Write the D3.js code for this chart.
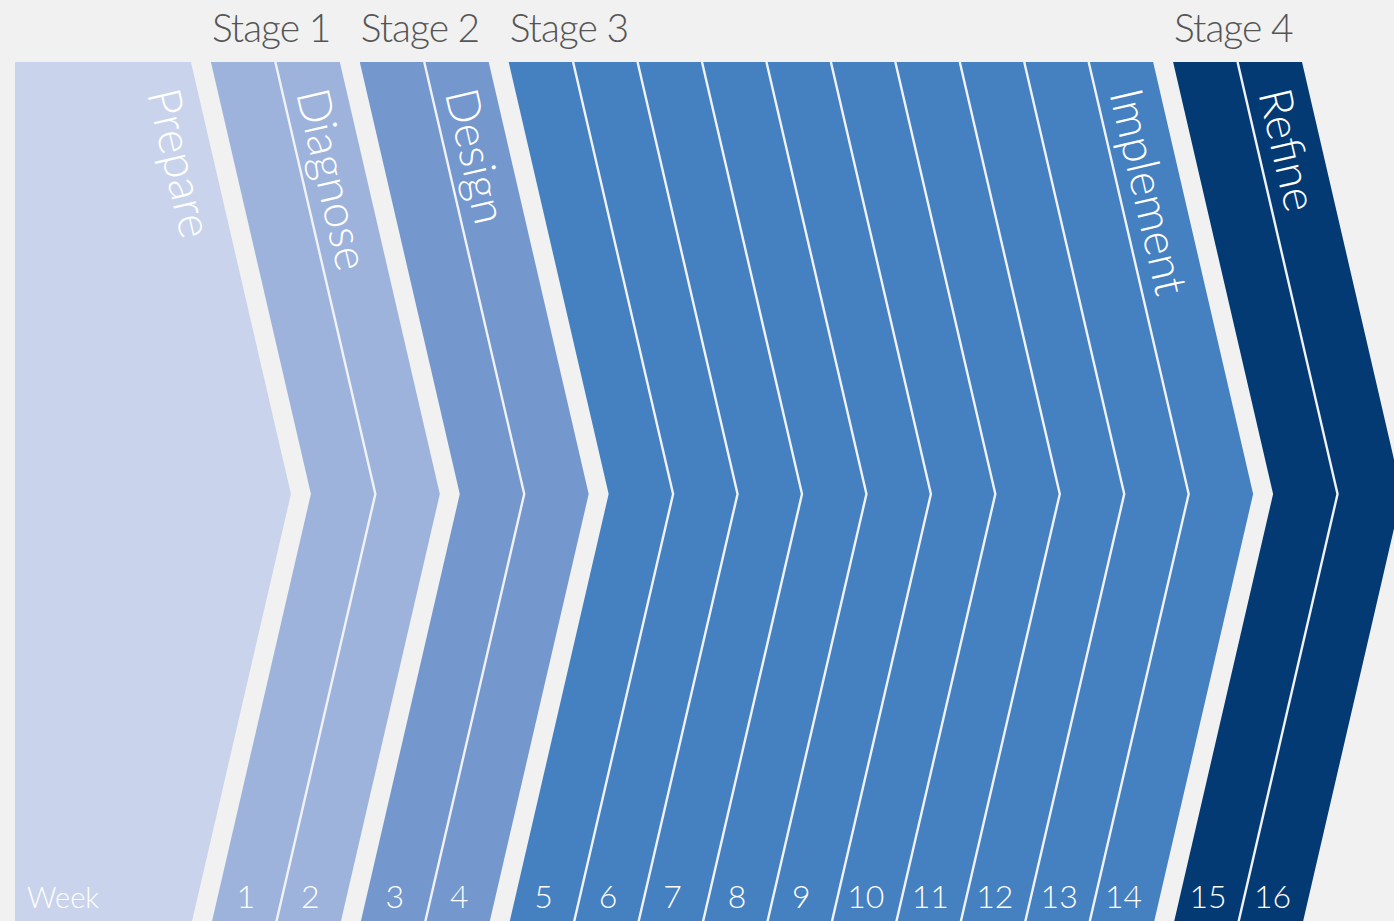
<!DOCTYPE html>
<html>
<head>
<meta charset="utf-8">
<script src="https://cdn.jsdelivr.net/npm/d3@7"></script>
<style>
  html, body { margin: 0; padding: 0; background: #f1f1f1; }
  svg { display: block; }
</style>
</head>
<body>
<svg id="chart"></svg>
<script>
// Project roadmap: a lead-in "Prepare" block followed by four stages of weekly chevrons.
const phaseNames  = ["Prepare", "Diagnose", "Design", "Implement", "Refine"];
const stageNames  = ["", "Stage 1", "Stage 2", "Stage 3", "Stage 4"];
const phaseWeeks  = [0, 2, 2, 10, 2];
const phaseColors = ["#c9d4ec", "#9db3dc", "#7497cd", "#4580c1", "#033a73"];
const weekLabels  = ["1", "2", "3", "4", "5", "6", "7", "8", "9", "10", "11", "12", "13", "14", "15", "16"];
const weekCaption = "Week";
const leadSpan = 2.73;   // width of the Prepare block, in weeks
const gapSpan  = 0.31;   // spacing between phases, in weeks

const W = 1394, H = 921;
const yTop = 62, yMid = 494, half = 432, yBottom = yMid + half;
const tipDepth = 100;
const bg = "#f1f1f1";

const svg = d3.select("#chart").attr("width", W).attr("height", H);
svg.append("rect").attr("width", W).attr("height", H).attr("fill", bg);

// Lay out phases and weeks along a single unit axis
const blocks = [];
const weeks = [];
let u = 0, wk = 0;
phaseNames.forEach((name, i) => {
  const span = i === 0 ? leadSpan : phaseWeeks[i];
  blocks.push({ name, stage: stageNames[i], color: phaseColors[i], start: u, end: u + span });
  for (let k = 0; k < phaseWeeks[i]; k++) {
    weeks.push({ label: weekLabels[wk++], start: u + k, end: u + k + 1, phase: i, first: k === 0 });
  }
  u += span + gapSpan;
});
const totalUnits = u - gapSpan;

const x = d3.scaleLinear().domain([0, totalUnits]).range([15, 1302]);

function chevron(x0, x1, notched) {
  const pts = [[x0, yTop], [x1, yTop], [x1 + tipDepth, yMid], [x1, yBottom], [x0, yBottom]];
  if (notched) pts.push([x0 + tipDepth, yMid]);
  return "M" + pts.map(p => p.join(",")).join("L") + "Z";
}

// Prepare block
svg.append("path")
  .attr("d", chevron(x(blocks[0].start), x(blocks[0].end), false))
  .attr("fill", blocks[0].color);

// Week chevrons
svg.append("g").selectAll("path")
  .data(weeks)
  .join("path")
  .attr("d", d => chevron(x(d.start), x(d.end), true))
  .attr("fill", d => phaseColors[d.phase]);

// Thin separators between weeks inside a phase
const line = d3.line();
svg.append("g").selectAll("path")
  .data(weeks.filter(d => !d.first))
  .join("path")
  .attr("d", d => line([[x(d.start), yTop], [x(d.start) + tipDepth, yMid], [x(d.start), yBottom]]))
  .attr("fill", "none")
  .attr("stroke", "#f1f2f5")
  .attr("stroke-width", 2.4);

// Stage headings
svg.append("g").selectAll("text")
  .data(blocks.filter(b => b.stage))
  .join("text")
  .attr("x", b => x(b.start) + 1)
  .attr("y", 42)
  .attr("fill", "#555555")
  .attr("font-family", "Lato, sans-serif")
  .attr("font-weight", 300)
  .attr("font-size", 39)
  .attr("letter-spacing", -1)
  .text(b => b.stage);

// Phase names, running along the slanted edge of each phase
const angle = Math.atan2(half, tipDepth) * 180 / Math.PI;
const labelY = 93;
svg.append("g").selectAll("text")
  .data(blocks)
  .join("text")
  .attr("transform", b => {
    const ex = x(b.end) + tipDepth * (labelY - yTop) / half - 51;
    return `translate(${ex},${labelY}) rotate(${angle})`;
  })
  .attr("fill", "#ffffff")
  .attr("font-family", "Lato, 'Open Sans', sans-serif")
  .attr("font-weight", 300)
  .attr("font-size", 46)
  .text(b => b.name);

// Week row
const rowY = 908;
const edgeShift = tipDepth * (yBottom - 897) / half;
svg.append("text")
  .attr("x", 27).attr("y", rowY)
  .attr("fill", "#ffffff")
  .attr("font-family", "Lato, sans-serif")
  .attr("font-weight", 300)
  .attr("font-size", 29)
  .text(weekCaption);

svg.append("g").selectAll("text")
  .data(weeks)
  .join("text")
  .attr("x", d => (x(d.start) + x(d.end)) / 2 + edgeShift - 4)
  .attr("y", rowY)
  .attr("text-anchor", "middle")
  .attr("fill", "#ffffff")
  .attr("font-family", "Lato, sans-serif")
  .attr("font-weight", 300)
  .attr("font-size", 32)
  .text(d => d.label);
</script>
</body>
</html>
